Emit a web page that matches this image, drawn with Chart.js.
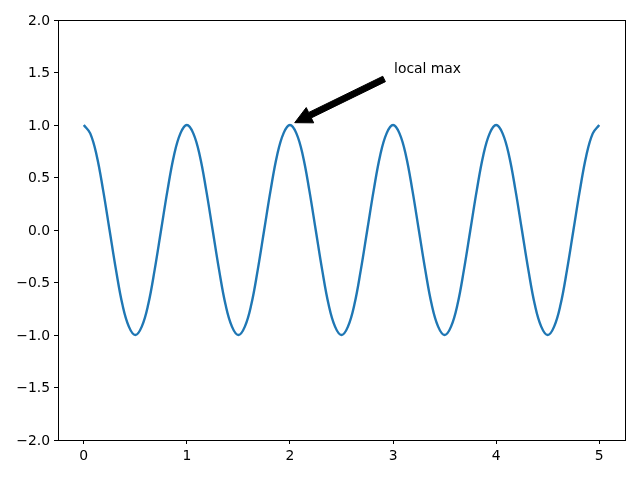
<!DOCTYPE html>
<html>
<head>
<meta charset="utf-8">
<script src="https://cdn.jsdelivr.net/npm/chart.js@4"></script>
<style>
  html, body { margin: 0; padding: 0; background: #fff; }
  #wrap { width: 640px; height: 480px; }
</style>
</head>
<body>
<div id="wrap"><canvas id="chart" width="640" height="480"></canvas></div>
<script>
// values, every 0.0625 along t
const times = [];
for (let i = 0; i <= 80; i++) times.push(i * 0.0625);
const values = [
  1, 0.92, 0.71, 0.38, 0, -0.38, -0.71, -0.92, -1, -0.92, -0.71, -0.38, 0, 0.38, 0.71, 0.92,
  1, 0.92, 0.71, 0.38, 0, -0.38, -0.71, -0.92, -1, -0.92, -0.71, -0.38, 0, 0.38, 0.71, 0.92,
  1, 0.92, 0.71, 0.38, 0, -0.38, -0.71, -0.92, -1, -0.92, -0.71, -0.38, 0, 0.38, 0.71, 0.92,
  1, 0.92, 0.71, 0.38, 0, -0.38, -0.71, -0.92, -1, -0.92, -0.71, -0.38, 0, 0.38, 0.71, 0.92,
  1, 0.92, 0.71, 0.38, 0, -0.38, -0.71, -0.92, -1, -0.92, -0.71, -0.38, 0, 0.38, 0.71, 0.92,
  1
];
const xTicks = [0, 1, 2, 3, 4, 5];
const yTicks = [-2, -1.5, -1, -0.5, 0, 0.5, 1, 1.5, 2];

// annotation: arrow points at xy, text sits at textXY
const annotLabel = "local max";
const annotXY = [2, 1];
const annotTextXY = [3, 1.5];

const FONT = { family: "DejaVu Sans", size: 13.9 };

const frameAndArrow = {
  id: "frameAndArrow",
  afterDatasetsDraw(chart) {
    const ctx = chart.ctx;
    const a = chart.chartArea;
    const xs = chart.scales.x, ys = chart.scales.y;

    ctx.save();
    // full box like matplotlib
    ctx.strokeStyle = "#000";
    ctx.lineWidth = 1;
    ctx.strokeRect(Math.round(a.left) + 0.5, Math.round(a.top) + 0.5,
      Math.round(a.right - a.left), Math.round(a.bottom - a.top));

    // text
    const tx = xs.getPixelForValue(annotTextXY[0]);
    const ty = ys.getPixelForValue(annotTextXY[1]);
    ctx.fillStyle = "#000";
    ctx.font = FONT.size + "px " + FONT.family;
    ctx.textAlign = "left";
    ctx.textBaseline = "alphabetic";
    ctx.fillText(annotLabel, tx + 1, ty);

    // arrow
    const px = xs.getPixelForValue(annotXY[0]);
    const py = ys.getPixelForValue(annotXY[1]);
    const sx = tx - 8, sy = ty + 6;
    let dx = px - sx, dy = py - sy;
    const len = Math.hypot(dx, dy);
    dx /= len; dy /= len;
    const shrink = 0.05 * len;
    const ex = px - dx * shrink, ey = py - dy * shrink;
    const bx = sx + dx * shrink * 0.2, by = sy + dy * shrink * 0.2;
    const headLen = 17, headW = 8.5, shaftW = 3;
    const nx = -dy, ny = dx;
    const hx = ex - dx * headLen, hy = ey - dy * headLen;
    ctx.beginPath();
    ctx.moveTo(bx + nx * shaftW, by + ny * shaftW);
    ctx.lineTo(hx + nx * shaftW, hy + ny * shaftW);
    ctx.lineTo(hx + nx * headW, hy + ny * headW);
    ctx.lineTo(ex, ey);
    ctx.lineTo(hx - nx * headW, hy - ny * headW);
    ctx.lineTo(hx - nx * shaftW, hy - ny * shaftW);
    ctx.lineTo(bx - nx * shaftW, by - ny * shaftW);
    ctx.closePath();
    ctx.fillStyle = "#000";
    ctx.fill();
    ctx.lineWidth = 1;
    ctx.stroke();
    ctx.restore();
  }
};

new Chart(document.getElementById("chart"), {
  type: "line",
  data: {
    datasets: [{
      data: times.map((t, i) => ({ x: t, y: values[i] })),
      borderColor: "#1f77b4",
      borderWidth: 2.4,
      pointRadius: 0,
      tension: 0.4,
      fill: false
    }]
  },
  options: {
    responsive: false,
    animation: false,
    layout: { padding: { top: 20, right: 15, left: 0, bottom: 0 } },
    plugins: { legend: { display: false }, tooltip: { enabled: false } },
    scales: {
      x: {
        type: "linear",
        min: -0.25,
        max: 5.25,
        afterBuildTicks: s => { s.ticks = xTicks.map(v => ({ value: v })); },
        afterFit: s => { s.height = 40; },
        grid: { drawOnChartArea: false, drawTicks: true, tickLength: 4, color: "#000" },
        border: { display: true, color: "#000" },
        ticks: { color: "#000", font: FONT, padding: 4, maxRotation: 0,
          callback: v => String(v).replace("-", "\u2212") }
      },
      y: {
        min: -2,
        max: 2,
        afterBuildTicks: s => { s.ticks = yTicks.map(v => ({ value: v })); },
        afterFit: s => { s.width = 58; },
        grid: { drawOnChartArea: false, drawTicks: true, tickLength: 4, color: "#000" },
        border: { display: true, color: "#000" },
        ticks: { color: "#000", font: FONT, padding: 4, labelOffset: 1,
          callback: v => v.toFixed(1).replace("-", "\u2212") }
      }
    }
  },
  plugins: [frameAndArrow]
});
</script>
</body>
</html>
